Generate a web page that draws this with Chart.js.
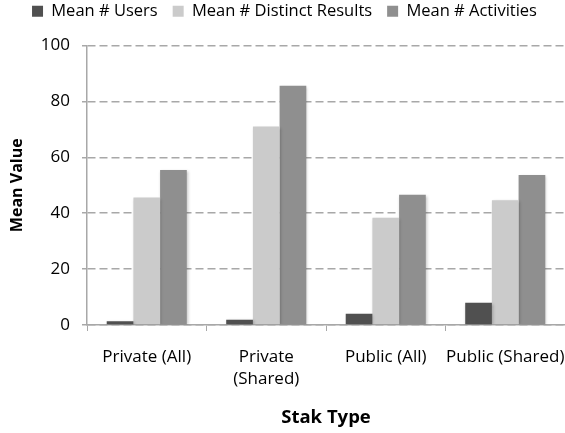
<!DOCTYPE html>
<html>
<head>
<meta charset="utf-8">
<script src="https://cdn.jsdelivr.net/npm/chart.js@4.4.1/dist/chart.umd.min.js"></script>
<style>
  html, body { margin: 0; padding: 0; background: #ffffff; }
  #wrap { width: 565px; height: 433px; position: relative; }
</style>
</head>
<body>
<div id="wrap"><canvas id="chart" width="565" height="433"></canvas></div>
<script>
// Stak types along the x axis (arrays become two-line labels)
const categories = ['Private (All)', ['Private', '(Shared)'], 'Public (All)', 'Public (Shared)'];

// Mean values per stak type
const meanUsers = [1.3, 1.9, 4.0, 8.0];
const meanDistinctResults = [45.6, 71.0, 38.4, 44.6];
const meanActivities = [55.5, 85.6, 46.6, 53.7];

const yTicks = [0, 20, 40, 60, 80, 100];

const FONT = '"Open Sans", sans-serif';
const GRID = '#a8a8a8';

Chart.defaults.font.family = FONT;
Chart.defaults.color = '#000000';

// soft drop shadow behind each bar
const barShadow = {
  id: 'barShadow',
  beforeDatasetsDraw(chart) {
    const ctx = chart.ctx;
    ctx.save();
    ctx.shadowColor = 'rgba(0,0,0,0.25)';
    ctx.shadowBlur = 3;
    ctx.shadowOffsetX = 1;
    ctx.shadowOffsetY = 1;
  },
  afterDatasetsDraw(chart) {
    chart.ctx.restore();
  }
};

// lift the legend row towards the top edge while keeping its reserved height
const legendLift = {
  id: 'legendLift',
  afterLayout(chart) {
    if (chart.legend) {
      chart.legend.top -= 16;
      chart.legend.bottom -= 16;
    }
  }
};

new Chart(document.getElementById('chart'), {
  type: 'bar',
  data: {
    labels: categories,
    datasets: [
      { label: 'Mean # Users', data: meanUsers, backgroundColor: '#505050' },
      { label: 'Mean # Distinct Results', data: meanDistinctResults, backgroundColor: '#cbcbcb' },
      { label: 'Mean # Activities', data: meanActivities, backgroundColor: '#8f8f8f' }
    ]
  },
  options: {
    responsive: false,
    animation: false,
    layout: { padding: { top: 4, right: 0, bottom: 0, left: 4 } },
    datasets: {
      bar: { categoryPercentage: 0.67, barPercentage: 1.0 }
    },
    plugins: {
      legend: {
        position: 'top',
        align: 'center',
        labels: {
          boxWidth: 11,
          boxHeight: 11,
          padding: 15,
          font: { size: 16.5 },
          color: '#000000'
        }
      },
      tooltip: { enabled: false }
    },
    scales: {
      x: {
        afterFit(scale) {
          scale.height = 108;
          // let the plot run to the right edge of the canvas
          scale.paddingLeft = 0;
          scale.paddingRight = 0;
        },
        grid: {
          drawOnChartArea: false,
          drawTicks: true,
          tickLength: 6,
          color: GRID,
          offset: true
        },
        border: { color: GRID, width: 1.5 },
        ticks: {
          font: { size: 17, lineHeight: 1.3 },
          color: '#000000',
          padding: 15,
          maxRotation: 0,
          autoSkip: false
        },
        title: {
          display: true,
          text: 'Stak Type',
          font: { size: 18.5, weight: 'bold' },
          color: '#000000',
          padding: { top: 10, bottom: 4 }
        }
      },
      y: {
        min: 0,
        max: 100,
        afterBuildTicks(scale) {
          scale.ticks = yTicks.map(v => ({ value: v }));
        },
        afterFit(scale) { scale.width = 83; },
        grid: {
          color: GRID,
          lineWidth: 1.5,
          tickLength: 5,
          tickBorderDash: [],
          drawTicks: true
        },
        border: { color: GRID, width: 1.5, dash: [8, 4] },
        ticks: { font: { size: 17 }, color: '#000000', padding: 12 },
        title: {
          display: true,
          text: 'Mean Value',
          font: { size: 16, weight: 'bold' },
          color: '#000000',
          padding: { top: 4, bottom: 6 }
        }
      }
    }
  },
  plugins: [barShadow, legendLift]
});
</script>
</body>
</html>
